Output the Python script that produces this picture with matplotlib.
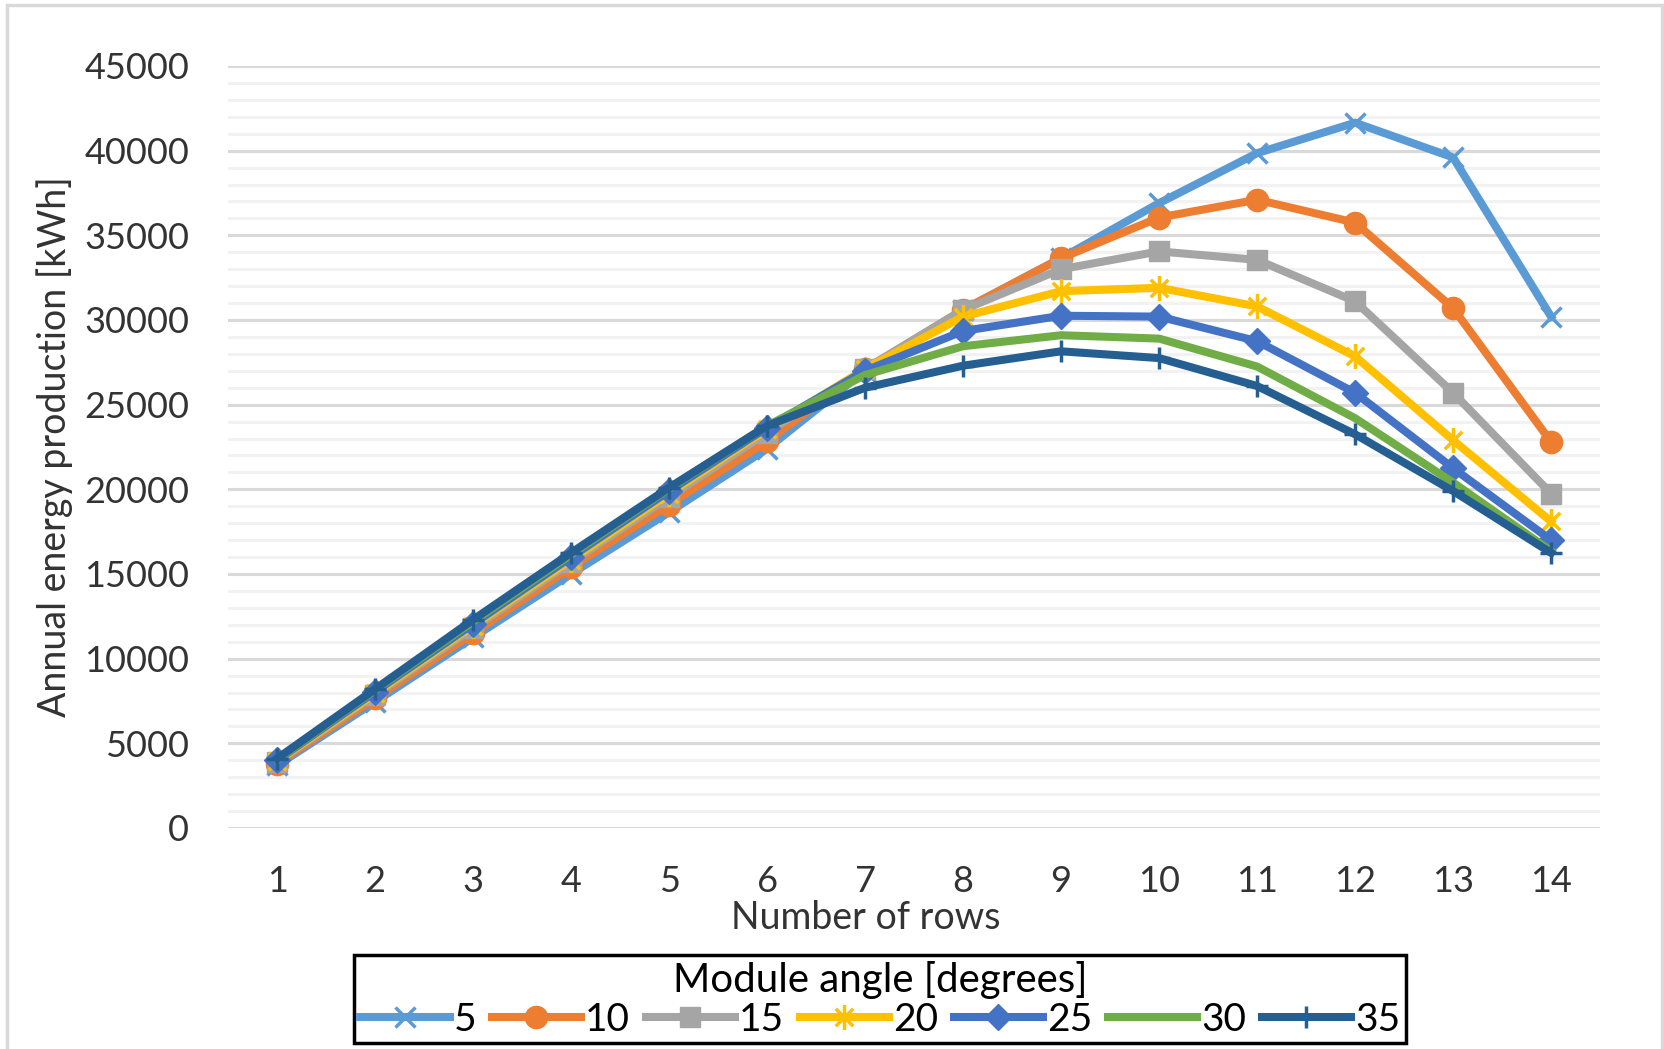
import numpy as np
import matplotlib
matplotlib.use("Agg")
import matplotlib.pyplot as plt
from matplotlib.path import Path
from matplotlib.patches import Rectangle
from matplotlib.ticker import MultipleLocator

plt.rcParams['font.family'] = ['Lato', 'DejaVu Sans']

# Roczna produkcja energii [kWh] w zależności od liczby rzędów i kąta modułu
rows = list(range(1, 15))
angles = ['5', '10', '15', '20', '25', '30', '35']
e5 = [3700, 7450, 11250, 15000, 18650, 22400, 27000, 30600, 33650, 36900, 39850, 41650, 39600, 30200]
e10 = [3800, 7650, 11500, 15400, 19100, 22850, 27100, 30600, 33650, 36050, 37100, 35750, 30700, 22800]
e15 = [3900, 7850, 11800, 15700, 19550, 23350, 27100, 30600, 33000, 34050, 33550, 31100, 25700, 19750]
e20 = [3950, 7950, 11950, 15850, 19750, 23550, 27100, 30200, 31700, 31900, 30800, 27850, 22900, 18100]
e25 = [4000, 8050, 12050, 16000, 19900, 23650, 27000, 29350, 30250, 30200, 28750, 25700, 21250, 17000]
e30 = [4050, 8150, 12200, 16150, 20050, 23750, 26750, 28450, 29100, 28900, 27250, 24200, 20400, 16350]
e35 = [4100, 8200, 12300, 16250, 20100, 23750, 26000, 27300, 28150, 27750, 26100, 23250, 19900, 16250]

# gwiazdka jak w Excelu: x + pionowa kreska
star = Path([(0, -1), (0, 1), (-0.7, -0.7), (0.7, 0.7), (-0.7, 0.7), (0.7, -0.7)],
            [Path.MOVETO, Path.LINETO] * 3)

styles = [
    ('#5B9BD5', 'x', 14, 2.5),
    ('#ED7D31', 'o', 16, 1),
    ('#A5A5A5', 's', 15, 1),
    ('#FFC000', star, 18, 2.5),
    ('#4472C4', 'D', 13, 1),
    ('#70AD47', None, 0, 1),
    ('#255E91', '+', 16, 2.5),
]
series = [e5, e10, e15, e20, e25, e30, e35]

fig = plt.figure(figsize=(16.65, 10.49), dpi=100)
ax = fig.add_axes([0.137, 0.2107, 0.824, 0.7264])

for lab, y, (col, mk, ms, mew) in zip(angles, series, styles):
    ax.plot(rows, y, color=col, lw=5.8, marker=mk, ms=ms, mew=mew,
            mec=col, mfc=col, label=lab, solid_joinstyle='round')

ax.set_xlim(0.5, 14.5)
ax.set_ylim(0, 45000)
ax.set_xticks(rows)
ax.yaxis.set_major_locator(MultipleLocator(5000))
ax.yaxis.set_minor_locator(MultipleLocator(1000))
ax.grid(which='major', axis='y', color='#D9D9D9', lw=2.2)
ax.grid(which='minor', axis='y', color='#F2F2F2', lw=2.2)
ax.set_axisbelow(True)
for s in ax.spines.values():
    s.set_visible(False)
ax.tick_params(which='both', length=0, labelsize=26, colors='#333333')
ax.tick_params(axis='x', pad=27)
ax.tick_params(axis='y', pad=28)

ax.set_xlabel('Number of rows', fontsize=27, color='#333333')
ax.xaxis.set_label_coords(0.465, -0.095)
ax.set_ylabel('Annual energy production [kWh]', fontsize=27, color='#333333')
ax.yaxis.set_label_coords(-0.113, 0.5)

leg = fig.legend(loc='center', bbox_to_anchor=(0.5286, 0.0475), ncol=7,
                 title='Module angle [degrees]', fontsize=28, title_fontsize=29,
                 handlelength=2.3, handletextpad=0.1, columnspacing=0.4,
                 borderpad=0.15, labelspacing=0.1, fancybox=False, framealpha=1)
leg.get_frame().set_edgecolor('black')
leg.get_frame().set_linewidth(2.5)
leg._legend_box.sep = 2

# jasnoszara ramka obszaru wykresu
fig.patches.append(Rectangle((7 / 1665, -0.2), 1655 / 1665, 1.2 - 5 / 1049,
                             transform=fig.transFigure, fill=False,
                             edgecolor='#D9D9D9', lw=2.5))

fig.savefig('out.png', dpi=100)
